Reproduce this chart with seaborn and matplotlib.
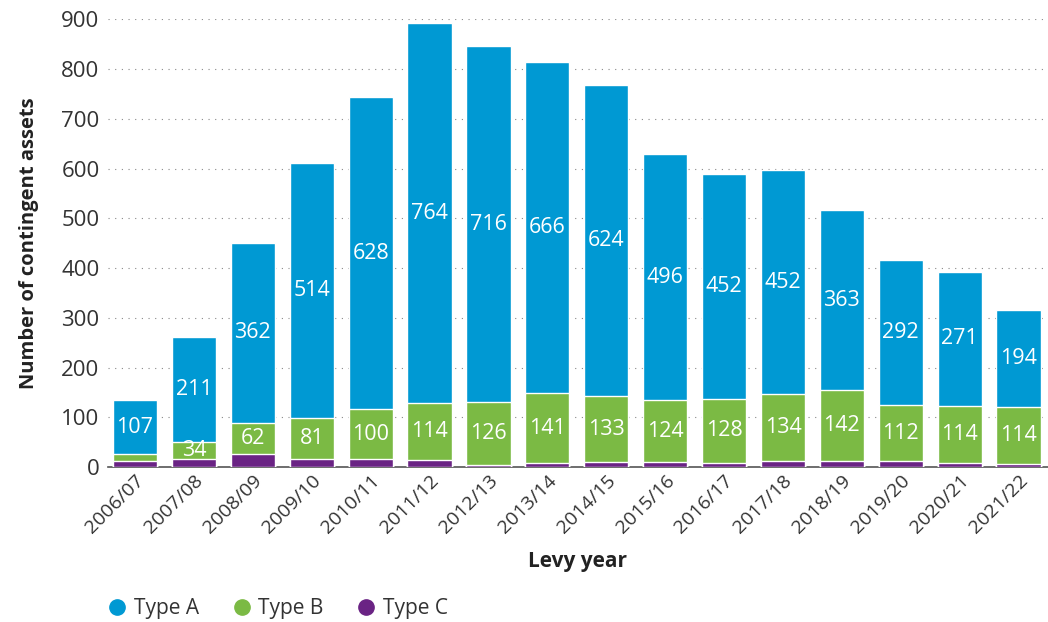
import matplotlib as mpl
import matplotlib.pyplot as plt
from matplotlib.lines import Line2D
import seaborn as sns
import pandas as pd
import numpy as np

years = ['2006/07', '2007/08', '2008/09', '2009/10', '2010/11', '2011/12', '2012/13', '2013/14',
         '2014/15', '2015/16', '2016/17', '2017/18', '2018/19', '2019/20', '2020/21', '2021/22']
type_a = [107, 211, 362, 514, 628, 764, 716, 666, 624, 496, 452, 452, 363, 292, 271, 194]
type_b = [14, 34, 62, 81, 100, 114, 126, 141, 133, 124, 128, 134, 142, 112, 114, 114]
type_c = [13, 16, 27, 17, 16, 14, 4, 8, 10, 10, 9, 12, 12, 12, 8, 7]

BLUE = '#0099d3'
GREEN = '#7bba44'
PURPLE = '#6a2384'

sns.set_style('white')
mpl.rcParams['font.family'] = ['Open Sans', 'DejaVu Sans']

df = pd.DataFrame({'year': years, 'A': type_a, 'B': type_b, 'C': type_c})
df['BC'] = df['B'] + df['C']
df['ABC'] = df['A'] + df['BC']

fig = plt.figure(figsize=(10.48, 6.22), dpi=100)
ax = fig.add_axes([0.103, 0.249, 0.897, 0.72])

# stacked bars drawn as overlapping cumulative totals
for col, color in [('ABC', BLUE), ('BC', GREEN), ('C', PURPLE)]:
    sns.barplot(data=df, x='year', y=col, color=color, width=0.75, ax=ax,
                edgecolor='white', linewidth=1.0, saturation=1, zorder=3)

# labels in the middle of the A and B segments
for i, row in df.iterrows():
    ax.text(i, row['BC'] + row['A'] / 2, str(row['A']), ha='center', va='center',
            color='white', fontsize=15.5, zorder=5)
    if row['B'] >= 20:
        ax.text(i, row['C'] + row['B'] / 2, str(row['B']), ha='center', va='center',
                color='white', fontsize=15.5, zorder=5)

ax.set_xlim(-0.46, 15.5)
ax.set_ylim(0, 900)
ax.set_yticks(range(0, 901, 100))
ax.yaxis.grid(True, linestyle=(0, (1, 5)), color='#888888', linewidth=0.8, zorder=0)
ax.xaxis.grid(False)
sns.despine(ax=ax, left=True, top=True, right=True)
ax.spines['bottom'].set_color('#555555')
ax.spines['bottom'].set_linewidth(1.2)

ax.tick_params(axis='y', labelsize=16, labelcolor='#333333', length=0, pad=6)
ax.tick_params(axis='x', labelsize=14, labelcolor='#333333', length=0, pad=3)
plt.setp(ax.get_xticklabels(), rotation=45, ha='right', rotation_mode='anchor')

ax.set_xlabel('Levy year', fontsize=15, fontweight='bold', color='#222222', labelpad=10)
ax.set_ylabel('Number of contingent assets', fontsize=14.5, fontweight='bold', color='#222222', labelpad=16)

handles = [Line2D([], [], marker='o', linestyle='', markersize=11, color=c)
           for c in [BLUE, GREEN, PURPLE]]
fig.legend(handles, ['Type A', 'Type B', 'Type C'], loc='center left', bbox_to_anchor=(0.085, 0.022),
           ncol=3, frameon=False, fontsize=15, handlelength=0.9, handletextpad=0.35,
           columnspacing=1.6, labelcolor='#333333')

fig.savefig('out.png', dpi=100)
